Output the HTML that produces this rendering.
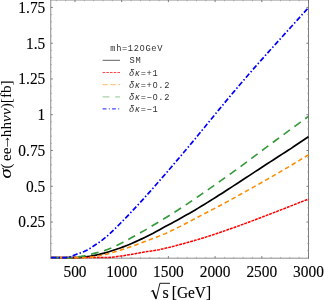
<!DOCTYPE html>
<html><head><meta charset="utf-8"><title>plot</title>
<style>html,body{margin:0;padding:0;background:#fff;}body{width:324px;height:300px;overflow:hidden;font-family:"Liberation Serif",serif;}svg{display:block;will-change:transform;}text{font-family:"Liberation Serif",serif;fill:#000;}.m{font-family:"Liberation Mono",monospace;font-size:8.7px;letter-spacing:0.64px;fill:#303030;}.z{font-family:"Liberation Sans",sans-serif;}.t{font-size:15.4px;stroke:#000;stroke-width:0.12px;}</style>
</head><body>
<svg width="324" height="300" viewBox="0 0 324 300">
<rect x="0" y="0" width="324" height="300" fill="#fff"/>
<g stroke="#707070" stroke-width="0.8" fill="none">
<line x1="50.75" y1="0" x2="50.75" y2="258.59999999999997"/>
<line x1="308.5" y1="0" x2="308.5" y2="258.59999999999997" stroke-width="0.9"/>
<line x1="50.35" y1="0.0" x2="308.9" y2="0.0"/>
<line x1="50.35" y1="258.2" x2="308.9" y2="258.2"/>
</g>
<path d="M75.00 258.2 v-2.1 M75.00 0.0 v2.1 M121.70 258.2 v-2.1 M121.70 0.0 v2.1 M168.40 258.2 v-2.1 M168.40 0.0 v2.1 M215.10 258.2 v-2.1 M215.10 0.0 v2.1 M261.80 258.2 v-2.1 M261.80 0.0 v2.1 M308.50 258.2 v-2.1 M308.50 0.0 v2.1 M50.75 222.03 h2.1 M308.5 222.03 h-2.1 M50.75 186.27 h2.1 M308.5 186.27 h-2.1 M50.75 150.50 h2.1 M308.5 150.50 h-2.1 M50.75 114.73 h2.1 M308.5 114.73 h-2.1 M50.75 78.96 h2.1 M308.5 78.96 h-2.1 M50.75 43.20 h2.1 M308.5 43.20 h-2.1 M50.75 7.43 h2.1 M308.5 7.43 h-2.1" stroke="#707070" stroke-width="0.9" fill="none"/>
<path d="M56.32 258.2 v-1.3 M56.32 0.0 v1.3 M65.66 258.2 v-1.3 M65.66 0.0 v1.3 M84.34 258.2 v-1.3 M84.34 0.0 v1.3 M93.68 258.2 v-1.3 M93.68 0.0 v1.3 M103.02 258.2 v-1.3 M103.02 0.0 v1.3 M112.36 258.2 v-1.3 M112.36 0.0 v1.3 M131.04 258.2 v-1.3 M131.04 0.0 v1.3 M140.38 258.2 v-1.3 M140.38 0.0 v1.3 M149.72 258.2 v-1.3 M149.72 0.0 v1.3 M159.06 258.2 v-1.3 M159.06 0.0 v1.3 M177.74 258.2 v-1.3 M177.74 0.0 v1.3 M187.08 258.2 v-1.3 M187.08 0.0 v1.3 M196.42 258.2 v-1.3 M196.42 0.0 v1.3 M205.76 258.2 v-1.3 M205.76 0.0 v1.3 M224.44 258.2 v-1.3 M224.44 0.0 v1.3 M233.78 258.2 v-1.3 M233.78 0.0 v1.3 M243.12 258.2 v-1.3 M243.12 0.0 v1.3 M252.46 258.2 v-1.3 M252.46 0.0 v1.3 M271.14 258.2 v-1.3 M271.14 0.0 v1.3 M280.48 258.2 v-1.3 M280.48 0.0 v1.3 M289.82 258.2 v-1.3 M289.82 0.0 v1.3 M299.16 258.2 v-1.3 M299.16 0.0 v1.3 M50.75 250.65 h1.3 M308.5 250.65 h-1.3 M50.75 243.49 h1.3 M308.5 243.49 h-1.3 M50.75 236.34 h1.3 M308.5 236.34 h-1.3 M50.75 229.19 h1.3 M308.5 229.19 h-1.3 M50.75 214.88 h1.3 M308.5 214.88 h-1.3 M50.75 207.73 h1.3 M308.5 207.73 h-1.3 M50.75 200.57 h1.3 M308.5 200.57 h-1.3 M50.75 193.42 h1.3 M308.5 193.42 h-1.3 M50.75 179.11 h1.3 M308.5 179.11 h-1.3 M50.75 171.96 h1.3 M308.5 171.96 h-1.3 M50.75 164.80 h1.3 M308.5 164.80 h-1.3 M50.75 157.65 h1.3 M308.5 157.65 h-1.3 M50.75 143.34 h1.3 M308.5 143.34 h-1.3 M50.75 136.19 h1.3 M308.5 136.19 h-1.3 M50.75 129.04 h1.3 M308.5 129.04 h-1.3 M50.75 121.88 h1.3 M308.5 121.88 h-1.3 M50.75 107.58 h1.3 M308.5 107.58 h-1.3 M50.75 100.42 h1.3 M308.5 100.42 h-1.3 M50.75 93.27 h1.3 M308.5 93.27 h-1.3 M50.75 86.12 h1.3 M308.5 86.12 h-1.3 M50.75 71.81 h1.3 M308.5 71.81 h-1.3 M50.75 64.66 h1.3 M308.5 64.66 h-1.3 M50.75 57.50 h1.3 M308.5 57.50 h-1.3 M50.75 50.35 h1.3 M308.5 50.35 h-1.3 M50.75 36.04 h1.3 M308.5 36.04 h-1.3 M50.75 28.89 h1.3 M308.5 28.89 h-1.3 M50.75 21.73 h1.3 M308.5 21.73 h-1.3 M50.75 14.58 h1.3 M308.5 14.58 h-1.3" stroke="#8c8c8c" stroke-width="0.6" fill="none"/>
<path d="M51.2 257.60 L54.2 257.60 L57.2 257.60 L60.2 257.60 L63.2 257.60 L66.2 257.60 L69.2 257.60 L72.2 257.60 L75.2 257.60 L78.2 257.60 L81.2 257.48 L84.2 257.12 L87.2 256.70 L90.2 256.22 L93.2 255.68 L96.2 255.08 L99.2 254.42 L102.2 253.66 L105.2 252.83 L108.2 251.95 L111.2 251.02 L114.2 250.04 L117.2 249.02 L120.2 247.94 L123.2 246.83 L126.2 245.67 L129.2 244.48 L132.2 243.20 L135.2 241.88 L138.2 240.52 L141.2 239.13 L144.2 237.70 L147.2 236.25 L150.2 234.76 L153.2 233.24 L156.2 231.62 L159.2 229.94 L162.2 228.24 L165.2 226.52 L168.2 224.96 L171.2 223.38 L174.2 221.77 L177.2 220.14 L180.2 218.48 L183.2 216.81 L186.2 215.11 L189.2 213.40 L192.2 211.66 L195.2 209.91 L198.2 208.14 L201.2 206.34 L204.2 204.50 L207.2 202.64 L210.2 200.77 L213.2 198.88 L216.2 196.99 L219.2 195.08 L222.2 193.16 L225.2 191.24 L228.2 189.30 L231.2 187.36 L234.2 185.41 L237.2 183.46 L240.2 181.50 L243.2 179.53 L246.2 177.57 L249.2 175.60 L252.2 173.63 L255.2 171.66 L258.2 169.69 L261.2 167.73 L264.2 165.77 L267.2 163.82 L270.2 161.87 L273.2 159.93 L276.2 157.99 L279.2 156.06 L282.2 154.14 L285.2 152.23 L288.2 150.32 L291.2 148.36 L294.2 146.31 L297.2 144.28 L300.2 142.26 L303.2 140.25 L306.2 138.25 L308.5 136.74" fill="none" stroke="#000000" stroke-width="1.7"/>
<path d="M51.2 257.60 L54.2 257.60 L57.2 257.60 L60.2 257.60 L63.2 257.60 L66.2 257.60 L69.2 257.60 L72.2 257.60 L75.2 257.60 L78.2 257.60 L81.2 257.60 L84.2 257.60 L87.2 257.60 L90.2 257.60 L93.2 257.60 L96.2 257.60 L99.2 257.60 L102.2 257.60 L105.2 257.60 L108.2 257.60 L111.2 257.33 L114.2 256.97 L117.2 256.56 L120.2 256.13 L123.2 255.67 L126.2 255.19 L129.2 254.70 L132.2 254.20 L135.2 253.69 L138.2 253.15 L141.2 252.58 L144.2 252.01 L147.2 251.59 L150.2 251.14 L153.2 250.68 L156.2 250.19 L159.2 249.69 L162.2 249.04 L165.2 248.34 L168.2 247.62 L171.2 246.88 L174.2 246.12 L177.2 245.34 L180.2 244.54 L183.2 243.73 L186.2 242.90 L189.2 242.06 L192.2 241.19 L195.2 240.31 L198.2 239.42 L201.2 238.51 L204.2 237.59 L207.2 236.65 L210.2 235.69 L213.2 234.70 L216.2 233.70 L219.2 232.69 L222.2 231.66 L225.2 230.63 L228.2 229.58 L231.2 228.53 L234.2 227.46 L237.2 226.38 L240.2 225.29 L243.2 224.20 L246.2 223.09 L249.2 221.98 L252.2 220.86 L255.2 219.73 L258.2 218.59 L261.2 217.45 L264.2 216.31 L267.2 215.17 L270.2 214.02 L273.2 212.86 L276.2 211.70 L279.2 210.54 L282.2 209.37 L285.2 208.20 L288.2 207.03 L291.2 205.85 L294.2 204.67 L297.2 203.49 L300.2 202.31 L303.2 201.13 L306.2 199.94 L308.5 199.04" fill="none" stroke="#ff0000" stroke-width="1.5" stroke-dasharray="2.9 0.9"/>
<path d="M51.2 257.60 L54.2 257.60 L57.2 257.60 L60.2 257.60 L63.2 257.60 L66.2 257.60 L69.2 257.60 L72.2 257.60 L75.2 257.60 L78.2 257.60 L81.2 257.60 L84.2 257.60 L87.2 257.48 L90.2 257.12 L93.2 256.71 L96.2 256.24 L99.2 255.73 L102.2 255.10 L105.2 254.41 L108.2 253.67 L111.2 252.88 L114.2 252.05 L117.2 251.18 L120.2 250.26 L123.2 249.31 L126.2 248.34 L129.2 247.33 L132.2 246.27 L135.2 245.19 L138.2 244.06 L141.2 242.90 L144.2 241.72 L147.2 240.66 L150.2 239.56 L153.2 238.44 L156.2 237.29 L159.2 236.10 L162.2 234.89 L165.2 233.64 L168.2 232.24 L171.2 230.81 L174.2 229.35 L177.2 227.87 L180.2 226.37 L183.2 224.85 L186.2 223.31 L189.2 221.75 L192.2 220.16 L195.2 218.57 L198.2 216.95 L201.2 215.37 L204.2 213.83 L207.2 212.27 L210.2 210.71 L213.2 209.13 L216.2 207.54 L219.2 205.95 L222.2 204.34 L225.2 202.73 L228.2 201.11 L231.2 199.48 L234.2 197.85 L237.2 196.19 L240.2 194.52 L243.2 192.85 L246.2 191.17 L249.2 189.49 L252.2 187.82 L255.2 186.14 L258.2 184.43 L261.2 182.72 L264.2 181.01 L267.2 179.30 L270.2 177.60 L273.2 175.84 L276.2 174.08 L279.2 172.34 L282.2 170.60 L285.2 168.88 L288.2 167.15 L291.2 165.31 L294.2 163.49 L297.2 161.67 L300.2 159.87 L303.2 158.04 L306.2 156.23 L308.5 154.85" fill="none" stroke="#ff8c00" stroke-width="1.55" stroke-dasharray="4.6 3.1"/>
<path d="M51.2 257.60 L54.2 257.60 L57.2 257.60 L60.2 257.60 L63.2 257.60 L66.2 257.60 L69.2 257.60 L72.2 257.60 L75.2 257.32 L78.2 256.90 L81.2 256.40 L84.2 255.83 L87.2 255.17 L90.2 254.45 L93.2 253.65 L96.2 252.85 L99.2 252.08 L102.2 251.24 L105.2 250.33 L108.2 249.19 L111.2 248.00 L114.2 246.69 L117.2 245.23 L120.2 243.73 L123.2 242.18 L126.2 240.58 L129.2 238.94 L132.2 237.33 L135.2 235.70 L138.2 234.04 L141.2 232.34 L144.2 230.61 L147.2 228.86 L150.2 227.07 L153.2 225.25 L156.2 223.48 L159.2 221.70 L162.2 219.89 L165.2 218.06 L168.2 216.21 L171.2 214.33 L174.2 212.42 L177.2 210.50 L180.2 208.55 L183.2 206.58 L186.2 204.59 L189.2 202.59 L192.2 200.56 L195.2 198.52 L198.2 196.46 L201.2 194.39 L204.2 192.33 L207.2 190.26 L210.2 188.17 L213.2 186.07 L216.2 183.95 L219.2 181.83 L222.2 179.70 L225.2 177.56 L228.2 175.44 L231.2 173.31 L234.2 171.18 L237.2 169.04 L240.2 166.89 L243.2 164.65 L246.2 162.41 L249.2 160.16 L252.2 157.91 L255.2 155.66 L258.2 153.41 L261.2 151.17 L264.2 148.93 L267.2 146.69 L270.2 144.46 L273.2 142.23 L276.2 140.00 L279.2 137.78 L282.2 135.57 L285.2 133.37 L288.2 131.18 L291.2 128.98 L294.2 126.76 L297.2 124.56 L300.2 122.37 L303.2 120.19 L306.2 118.03 L308.5 116.38" fill="none" stroke="#359a3a" stroke-width="1.65" stroke-dasharray="7.8 5.6"/>
<path d="M51.2 257.60 L54.2 257.60 L57.2 257.60 L60.2 257.60 L63.2 257.60 L66.2 257.60 L69.2 257.19 L72.2 256.11 L75.2 254.72 L78.2 253.67 L81.2 252.66 L84.2 251.49 L87.2 249.96 L90.2 248.20 L93.2 246.31 L96.2 244.30 L99.2 242.25 L102.2 240.08 L105.2 237.70 L108.2 235.13 L111.2 232.33 L114.2 229.44 L117.2 226.51 L120.2 223.50 L123.2 220.45 L126.2 217.39 L129.2 214.26 L132.2 211.06 L135.2 207.81 L138.2 204.60 L141.2 201.35 L144.2 198.05 L147.2 194.71 L150.2 191.35 L153.2 187.96 L156.2 184.55 L159.2 181.11 L162.2 177.66 L165.2 174.18 L168.2 170.69 L171.2 167.19 L174.2 163.66 L177.2 160.13 L180.2 156.59 L183.2 153.03 L186.2 149.47 L189.2 145.90 L192.2 142.33 L195.2 138.71 L198.2 135.04 L201.2 131.37 L204.2 127.69 L207.2 124.02 L210.2 120.35 L213.2 116.69 L216.2 113.03 L219.2 109.38 L222.2 105.74 L225.2 102.11 L228.2 98.49 L231.2 94.90 L234.2 91.34 L237.2 87.79 L240.2 84.26 L243.2 80.76 L246.2 77.27 L249.2 73.80 L252.2 70.36 L255.2 66.93 L258.2 63.53 L261.2 60.13 L264.2 56.76 L267.2 53.39 L270.2 50.04 L273.2 46.70 L276.2 43.37 L279.2 40.04 L282.2 36.72 L285.2 33.40 L288.2 30.08 L291.2 26.77 L294.2 23.45 L297.2 20.13 L300.2 16.81 L303.2 13.48 L306.2 10.15 L308.5 7.59" fill="none" stroke="#0000ff" stroke-width="1.7" stroke-dasharray="5.2 2.1 1.5 2.1"/>
<text class="t" transform="translate(75.0 276.7) scale(1 1.06)" text-anchor="middle">500</text>
<text class="t" transform="translate(121.7 276.7) scale(1 1.06)" text-anchor="middle">1000</text>
<text class="t" transform="translate(168.4 276.7) scale(1 1.06)" text-anchor="middle">1500</text>
<text class="t" transform="translate(215.1 276.7) scale(1 1.06)" text-anchor="middle">2000</text>
<text class="t" transform="translate(261.8 276.7) scale(1 1.06)" text-anchor="middle">2500</text>
<text class="t" transform="translate(308.5 276.7) scale(1 1.06)" text-anchor="middle">3000</text>
<text class="t" transform="translate(45.3 12.8) scale(1 1.06)" text-anchor="end">1.75</text>
<text class="t" transform="translate(45.3 48.6) scale(1 1.06)" text-anchor="end">1.5</text>
<text class="t" transform="translate(45.3 84.4) scale(1 1.06)" text-anchor="end">1.25</text>
<text class="t" transform="translate(45.3 120.1) scale(1 1.06)" text-anchor="end">1</text>
<text class="t" transform="translate(45.3 155.9) scale(1 1.06)" text-anchor="end">0.75</text>
<text class="t" transform="translate(45.3 191.7) scale(1 1.06)" text-anchor="end">0.5</text>
<text class="t" transform="translate(45.3 227.4) scale(1 1.06)" text-anchor="end">0.25</text>
<path d="M150.8 291.6 L152.8 290.4" fill="none" stroke="#000" stroke-width="0.8"/>
<path d="M152.7 290.3 L156.0 298.6" fill="none" stroke="#000" stroke-width="1.6"/>
<path d="M156.0 299.2 L159.9 283.3 L170.0 283.3" fill="none" stroke="#000" stroke-width="0.9" stroke-linejoin="miter"/>
<text class="t" transform="translate(162.4 298.3) scale(1.04 1.13)">s</text>
<text class="t" transform="translate(171.8 298.3) scale(1 1.13)">[GeV]</text>
<text style="font-size:19px;font-style:italic;" transform="translate(11.0 178.4) rotate(-90) scale(1.08 0.84)">σ</text>
<text style="font-size:15.3px;" transform="translate(11.0 168.6) rotate(-90)">(</text>
<text style="font-size:15.3px;" transform="translate(11.0 161.0) rotate(-90)">ee</text>
<text style="font-size:15.3px;" transform="translate(9.6 149.7) rotate(-90)">→</text>
<text style="font-size:15.3px;" transform="translate(11.0 137.2) rotate(-90)">hh<tspan font-style="italic">νν</tspan>)[fb]</text>
<text class="m" x="110.3" y="51.4">mh=12<tspan class="z" dx="0.2">0</tspan><tspan dx="0.2">G</tspan>eV</text>
<text class="m" x="129.6" y="63.3">SM</text>
<text class="m" x="129.0" y="75.5"><tspan font-style="italic">δκ</tspan>=+1</text>
<text class="m" x="129.0" y="87.7"><tspan font-style="italic">δκ</tspan>=+<tspan class="z" dx="0.2">0</tspan><tspan dx="0.2">.</tspan>2</text>
<text class="m" x="129.0" y="99.9"><tspan font-style="italic">δκ</tspan>=−<tspan class="z" dx="0.2">0</tspan><tspan dx="0.2">.</tspan>2</text>
<text class="m" x="129.0" y="111.9"><tspan font-style="italic">δκ</tspan>=−1</text>
<line x1="102.6" y1="60.3" x2="120" y2="60.3" stroke="#505050" stroke-width="0.9" opacity="1.0"/>
<line x1="102.6" y1="72.5" x2="120" y2="72.5" stroke="#ff0000" stroke-width="0.8" opacity="0.9" stroke-dasharray="2.6 1.1"/>
<line x1="102.6" y1="84.7" x2="120" y2="84.7" stroke="#ff8c00" stroke-width="0.8" opacity="0.75" stroke-dasharray="5.2 2.7"/>
<line x1="102.6" y1="96.9" x2="120" y2="96.9" stroke="#3c9a3c" stroke-width="0.8" opacity="0.7" stroke-dasharray="6.8 5.8"/>
<line x1="102.6" y1="108.9" x2="120" y2="108.9" stroke="#0000ff" stroke-width="0.9" opacity="1.0" stroke-dasharray="3.9 2.3 1 2.2"/>
</svg></body></html>
